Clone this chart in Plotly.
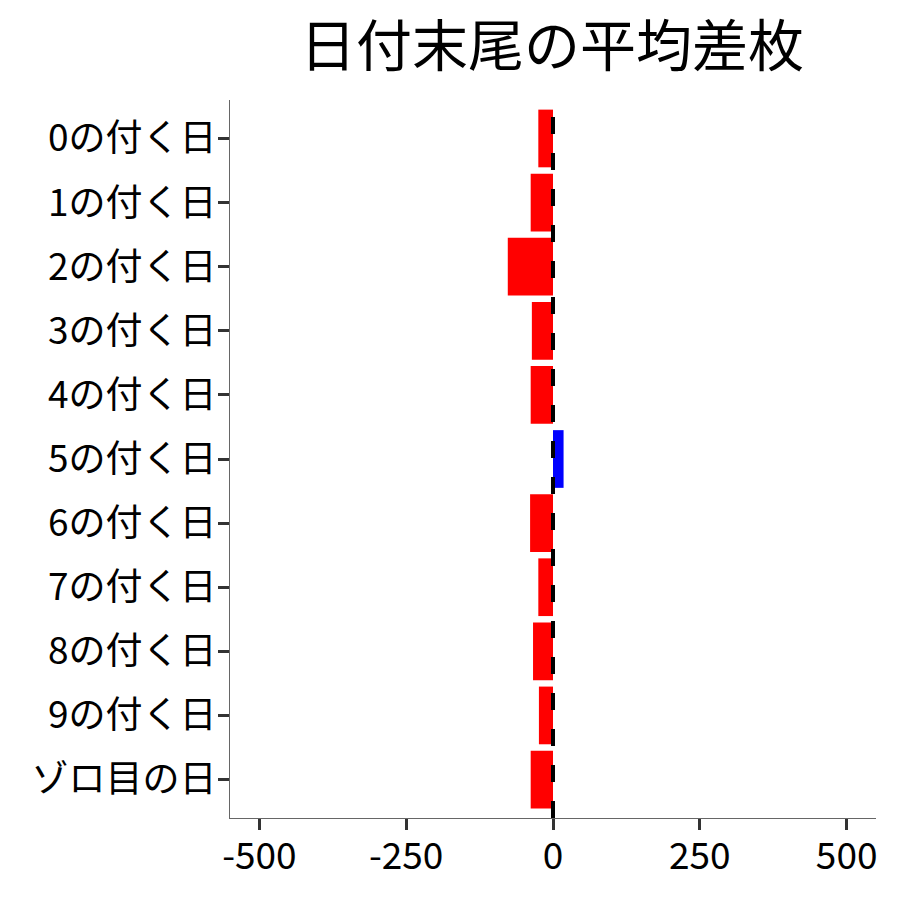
import plotly.graph_objects as go

categories = ["0の付く日", "1の付く日", "2の付く日", "3の付く日", "4の付く日",
              "5の付く日", "6の付く日", "7の付く日", "8の付く日", "9の付く日", "ゾロ目の日"]
values = [-25, -38, -77, -36, -38, 18, -39, -25, -34, -24, -38]
bar_colors = ["#FF0000" if v < 0 else "#0000FF" for v in values]
x_ticks = [-500, -250, 0, 250, 500]
title_text = "日付末尾の平均差枚"

FONT = "Noto Sans CJK JP"

fig = go.Figure(go.Bar(
    x=values, y=categories, orientation="h",
    marker=dict(color=bar_colors, line=dict(width=0)),
    width=0.9,
))

fig.add_shape(type="line", x0=0, x1=0, xref="x", y0=0, y1=1, yref="paper",
              line=dict(color="black", width=4, dash="17px,19px"), layer="above")

fig.update_layout(
    width=900, height=900,
    paper_bgcolor="white", plot_bgcolor="white",
    margin=dict(l=222, r=32, t=92, b=90, autoexpand=False),
    font=dict(family=FONT, color="black"),
    title=dict(text=title_text, x=544/900, xanchor="center", y=1 - 38/900, yanchor="middle",
               font=dict(size=56, family=FONT, color="black")),
    showlegend=False,
    bargap=0.1,
)

fig.update_xaxes(
    range=[-550, 550], tickvals=x_ticks, ticktext=[str(t) for t in x_ticks],
    showgrid=False, zeroline=False, showline=True, linecolor="#666", linewidth=1.2,
    ticks="outside", ticklen=11, tickwidth=2.5, tickcolor="#333",
    ticklabelstandoff=-6,
    tickfont=dict(size=37, family=FONT, color="black"),
)
fig.update_yaxes(
    categoryorder="array", categoryarray=categories, range=[10.6, -0.6],
    showgrid=False, zeroline=False, showline=True, linecolor="#666", linewidth=1.2,
    ticks="outside", ticklen=11, tickwidth=2.5, tickcolor="#333",
    ticklabelstandoff=-6,
    tickfont=dict(size=37, family=FONT, color="black"),
)

fig.write_html("out.html")
